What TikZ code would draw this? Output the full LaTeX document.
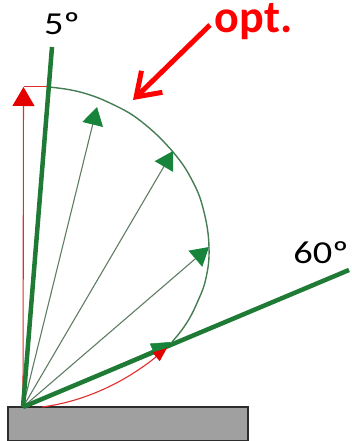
\documentclass[tikz,border=0pt]{standalone}
\usepackage{fontspec}
\newfontfamily\labelfont[FakeStretch=1.2]{Carlito}
\newfontfamily\optfont{Carlito}
\usetikzlibrary{arrows.meta}
\definecolor{thickgreen}{RGB}{30,122,52}
\definecolor{headgreen}{RGB}{22,132,58}
\definecolor{thingreen}{RGB}{95,125,100}
\definecolor{arcgreen}{RGB}{70,125,85}
\definecolor{redline}{RGB}{225,45,45}
\definecolor{optred}{RGB}{255,0,0}
\definecolor{plategray}{RGB}{160,160,160}
\definecolor{plateedge}{RGB}{45,45,45}
\begin{document}
\begin{tikzpicture}[x=1pt,y=-1pt,
  thickline/.style={thickgreen,line width=4.5pt},
  ray/.style={thingreen,line width=1.1pt,-{Triangle[length=18pt,width=21pt,color=headgreen]}},
  arcline/.style={arcgreen,line width=1.4pt},
  redarrow/.style={redline,line width=1.1pt},
  anglelabel/.style={font=\labelfont\fontsize{32}{34}\selectfont,inner sep=0pt,anchor=base},
  optlabel/.style={font=\optfont\bfseries\fontsize{46}{48}\selectfont,text=optred,inner sep=0pt,anchor=base},
  pointer/.style={optred,line width=5pt,-{Straight Barb[length=22pt,width=30pt,line width=5pt]}}
]
\useasboundingbox (0,0) rectangle (351,441);
% plate
\draw[plateedge,fill=plategray,line width=1.5pt] (8,407) rectangle (248,440.5);
% coordinates
\coordinate (O) at (23,407);
\coordinate (top5) at (52,47);
\coordinate (end60) at (349,270);
\coordinate (t1) at (97,107);
\coordinate (t2) at (173,151);
\coordinate (t3) at (209,247);
\coordinate (t4) at (171,342);
\coordinate (rtop) at (23.5,87);
\coordinate (rcorner) at (23.5,86.5);
\coordinate (rside) at (49,86.5);
\coordinate (rstart) at (42,407);
\coordinate (rtip) at (167,348);
\coordinate (pstart) at (210,25);
\coordinate (ptip) at (133,100);
% green lobe
\draw[arcline] plot[smooth,tension=0.7] coordinates {(49,87) (80,92) (112,104) (142,122) (173,152) (193,182) (204,212) (209,247) (206,278) (197,303) (186,324) (172,342)};
% red normal arrow
\draw[redarrow,-{Triangle[length=19pt,width=22pt,color=red!90!black]}] (O) -- (rtop);
\draw[redarrow] (rcorner) -- (rside);
% thin rays
\draw[ray] (O) -- (t1);
\draw[ray] (O) -- (t2);
\draw[ray] (O) -- (t3);
% thick lines
\draw[thickline] (O) -- (top5);
\draw[thickline] (O) -- (end60);
\draw[ray,thickgreen,line width=0.5pt,-{Triangle[length=20pt,width=14pt,color=headgreen]}] (O) -- (t4);
% red curved arrow
\draw[redarrow,-{Triangle[length=14pt,width=11pt,color=red!90!black]}] (rstart) .. controls (95,400) and (135,374) .. (rtip);
% labels
\node[anglelabel] (l5) at (62,35) {5º};
\node[anglelabel] (l60) at (321,263) {60º};
\node[optlabel] (opt) at (253.5,33) {opt.};
\draw[pointer] (pstart) -- (ptip);
\end{tikzpicture}
\end{document}
